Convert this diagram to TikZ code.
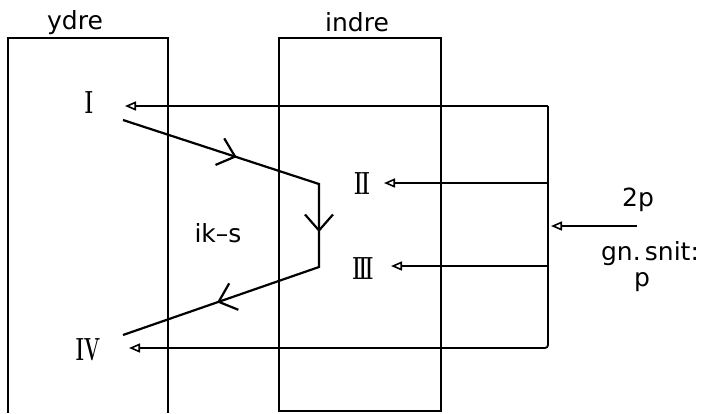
\documentclass[tikz,border=0pt]{standalone}
\usepackage{fontspec}
\setsansfont{DejaVu Sans}
\usetikzlibrary{arrows.meta,decorations.markings}
\begin{document}
\begin{tikzpicture}[x=1pt,y=-1pt,
  box/.style={line width=2.4pt},
  feed/.style={line width=1.8pt,-{Triangle[open,length=11pt,width=9pt,line width=1.6pt]}},
  flow/.style={line width=2.2pt, line join=miter},
  lab/.style={font=\sffamily\fontsize{25}{25}\selectfont, inner sep=0pt},
  rom/.style={font=\bfseries\fontsize{32}{32}\selectfont, xscale=0.6, inner sep=0pt},
  midbarb/.style={postaction={decorate}, decoration={markings, mark=at position #1 with {\arrow{Straight Barb[length=16pt,width=28pt,line width=2.2pt]}}}}]
\useasboundingbox (0,0) rectangle (704,413);
% boxes
\draw[box] (8,413) -- (8,38) -- (168,38) -- (168,413);
\draw[box] (279,38) rectangle (441,411);
% labels
\node[lab] (ydre) at (75,23) {ydre};
\node[lab] (indre) at (357,22) {indre};
\node[lab] (iks) at (218,233) {ik–s};
\node[lab] (twop) at (638,200) {2p};
\node[lab] (gn) at (650,254) {gn.\,snit:};
\node[lab] (p) at (642,282) {p};
% roman numerals
\node[rom] (n1) at (89,103) {I};
\node[rom] (n2) at (362,184) {I\kern-1pt I};
\node[rom] (n3) at (363,269) {I\kern-3pt I\kern-3pt I};
\node[rom] (n4) at (88,350) {IV};
% feed lines
\coordinate (bt) at (548,106);
\coordinate (b2) at (548,183);
\coordinate (b3) at (548,266);
\coordinate (bin) at (551,226);
\coordinate (src) at (637,226);
\coordinate (tI) at (125,106);
\coordinate (tII) at (384,183);
\coordinate (tIII) at (391,266);
\coordinate (tIV) at (129,348);
\draw[feed] (bt) -- (tI);
\draw[feed, rounded corners=3pt] (bt) |- (tIV);
\draw[feed] (b2) -- (tII);
\draw[feed] (b3) -- (tIII);
\draw[feed] (src) -- (bin);
% flow path
\coordinate (p1) at (123,120);
\coordinate (p2) at (319,184);
\coordinate (p3) at (319,267);
\coordinate (p4) at (123,335);
\draw[flow] (p1) -- (p2) -- (p3) -- (p4);
\path[flow, midbarb=0.58] (p1) -- (p2);
\path[flow, midbarb=0.58] (p2) -- (p3);
\path[flow, midbarb=0.52] (p3) -- (p4);
\end{tikzpicture}
\end{document}
